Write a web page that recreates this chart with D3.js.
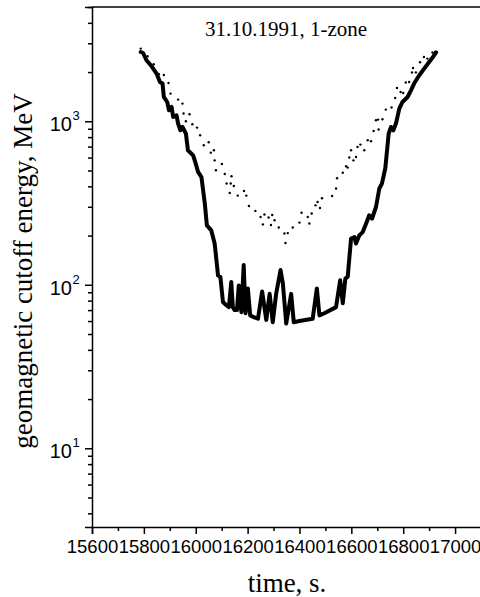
<!DOCTYPE html>
<html>
<head>
<meta charset="utf-8">
<script src="https://cdn.jsdelivr.net/npm/d3@7/dist/d3.min.js"></script>
<style>
  body { margin: 0; background: #fff; }
  svg { display: block; }
  .tick text { font-family: "Liberation Sans", Arial, sans-serif; }
</style>
</head>
<body>
<div id="chart"></div>
<script>
// thick curve: cutoff energy along the orbit (time in s, energy in MeV)
const solidTime = [15788, 15797, 15810, 15830, 15849, 15862, 15872, 15877, 15890, 15897,
  15907, 15913, 15926, 15932, 15941, 15949, 15962, 15970, 15990, 16000,
  16009, 16022, 16035, 16043, 16060, 16073, 16086, 16095, 16105, 16118,
  16128, 16137, 16143, 16150, 16159, 16166, 16176, 16185, 16192, 16201,
  16210, 16223, 16240, 16256, 16272, 16285, 16297, 16310, 16327, 16336,
  16349, 16368, 16378, 16400, 16451, 16467, 16477, 16496, 16541, 16557,
  16567, 16577, 16586, 16599, 16612, 16618, 16631, 16644, 16657, 16669,
  16680, 16695, 16708, 16718, 16731, 16744, 16753, 16762, 16772, 16785,
  16797, 16817, 16830, 16842, 16862, 16881, 16900, 16915, 16927];
const solidEnergy = [2654, 2617, 2361, 2170, 1957, 1740, 1701, 1408, 1312, 1168,
  1223, 1062, 1088, 968, 881, 923, 841, 665, 619, 551,
  490, 456, 314, 231, 215, 179, 114, 112, 78.5, 75,
  73, 104, 73, 70, 70, 99, 68, 132, 67, 95,
  65, 63.5, 62, 91, 61, 88, 59, 88, 123, 102,
  58, 88, 59, 60, 62, 95, 65, 67, 73, 106.5,
  77, 109, 112, 192, 196, 179, 201, 210, 237, 266,
  254, 299, 388, 416, 516, 841, 923, 881, 968, 1196,
  1312, 1408, 1547, 1701, 1911, 2101, 2305, 2474, 2642];

// dotted curve
const dotTime = [15788, 15814, 15838, 15858, 15877, 15895, 15903, 15932, 15949, 15953,
  15976, 15962, 15987, 16005, 16017, 16050, 16031, 16070, 16058, 16073,
  16101, 16078, 16112, 16138, 16119, 16135, 16147, 16131, 16186, 16162,
  16195, 16205, 16230, 16265, 16295, 16250, 16281, 16304, 16259, 16290,
  16320, 16342, 16355, 16346, 16374, 16400, 16408, 16432, 16438, 16447,
  16462, 16470, 16479, 16487, 16526, 16541, 16545, 16567, 16580, 16586,
  16592, 16608, 16618, 16599, 16624, 16635, 16650, 16663, 16676, 16686,
  16695, 16705, 16703, 16720, 16733, 16755, 16769, 16776, 16790, 16800,
  16810, 16823, 16834, 16838, 16849, 16865, 16880, 16893, 16913, 16923];
const dotEnergy = [2784, 2498, 2232, 1938, 1919, 1715, 1477, 1357, 1283, 1115,
  1104, 1000, 959, 915, 821, 744, 713, 665, 643, 577,
  548, 502, 476, 461, 416, 416, 402, 364, 375, 351,
  351, 303, 283, 269, 267, 260, 258, 248, 234, 232,
  224, 206, 207, 180, 224, 240, 276, 260, 237, 273,
  306, 321, 295, 338, 349, 388, 448, 484, 531, 521,
  600, 577, 605, 665, 697, 720, 665, 765, 755, 872,
  1014, 890, 1024, 1029, 1179, 1213, 1388, 1599, 1511, 1490,
  1725, 1740, 1986, 2118, 1990, 2296, 2474, 2418, 2632, 2654];

const xTicks = [15600, 15800, 16000, 16200, 16400, 16600, 16800, 17000];
const yTicks = [10, 100, 1000];
const yExponents = ["1", "2", "3"];

const width = 480, height = 597;
const margin = { top: 7, left: 92, bottom: 70 };

const svg = d3.select("#chart")
  .append("svg")
    .attr("width", width)
    .attr("height", height);

const x = d3.scaleLinear()
  .domain([15600, 17100])
  .range([margin.left, 481]);

const y = d3.scaleLog()
  .domain([3.3, 5000])
  .range([height - margin.bottom, margin.top]);

// minor ticks
const xMinor = d3.range(15700, 17100, 200);
const yMinor = [];
[1, 10, 100, 1000].forEach(dec => {
  for (let k = 2; k <= 9; k++) {
    const v = k * dec;
    if (v >= 3.3 && v <= 5000) yMinor.push(v);
  }
});

// frame top line
svg.append("line")
  .attr("x1", x.range()[0]).attr("x2", x.range()[1])
  .attr("y1", y.range()[1]).attr("y2", y.range()[1])
  .attr("stroke", "#000").attr("stroke-width", 1.5);

// x axis
const xAxis = svg.append("g")
  .attr("transform", `translate(0,${y.range()[0]})`)
  .call(d3.axisBottom(x).tickValues(xTicks).tickSize(7).tickPadding(6).tickFormat(d3.format("d")));
svg.append("g")
  .attr("transform", `translate(0,${y.range()[0]})`)
  .call(d3.axisBottom(x).tickValues(xMinor).tickSize(4).tickFormat(""))
  .call(g => g.select(".domain").remove());
xAxis.selectAll("text").attr("font-size", 18.5).attr("fill", "#000");

// y axis
const yAxis = svg.append("g")
  .attr("transform", `translate(${margin.left},0)`)
  .call(d3.axisLeft(y).tickValues(yTicks).tickSize(7).tickFormat(""));
svg.append("g")
  .attr("transform", `translate(${margin.left},0)`)
  .call(d3.axisLeft(y).tickValues(yMinor).tickSize(4).tickFormat(""))
  .call(g => g.select(".domain").remove());

svg.selectAll(".domain, .tick line").attr("stroke", "#000").attr("stroke-width", 1.5);

const yLab = svg.append("g").selectAll("text")
  .data(yTicks)
  .join("text")
    .attr("x", 72)
    .attr("y", d => y(d) + 10)
    .attr("text-anchor", "end")
    .attr("font-family", "Liberation Sans, Arial, sans-serif")
    .attr("font-size", 20)
    .text("10");
svg.append("g").selectAll("text")
  .data(yTicks)
  .join("text")
    .attr("x", 72.5)
    .attr("y", d => y(d) - 1)
    .attr("font-family", "Liberation Sans, Arial, sans-serif")
    .attr("font-size", 13)
    .text((d, i) => yExponents[i]);

// curves
const solid = solidTime.map((t, i) => [t, solidEnergy[i]]);
const line = d3.line()
  .x(d => x(d[0]))
  .y(d => y(d[1]));

svg.append("path")
  .datum(solid)
  .attr("d", line)
  .attr("fill", "none")
  .attr("stroke", "#000")
  .attr("stroke-width", 4)
  .attr("stroke-linejoin", "round")
  .attr("stroke-linecap", "round");

svg.append("g").selectAll("circle")
  .data(dotTime.map((t, i) => [t, dotEnergy[i]]))
  .join("circle")
    .attr("cx", d => x(d[0]))
    .attr("cy", d => y(d[1]))
    .attr("r", 1.2)
    .attr("fill", "#000");

// labels
svg.append("text")
  .attr("x", 286)
  .attr("y", 36)
  .attr("text-anchor", "middle")
  .attr("font-family", "Liberation Serif, Times New Roman, serif")
  .attr("font-size", 21)
  .text("31.10.1991, 1-zone");

svg.append("text")
  .attr("x", 287)
  .attr("y", 592)
  .attr("text-anchor", "middle")
  .attr("font-family", "Liberation Serif, Times New Roman, serif")
  .attr("font-size", 27)
  .text("time, s.");

svg.append("text")
  .attr("transform", "translate(32,271) rotate(-90)")
  .attr("text-anchor", "middle")
  .attr("font-family", "Liberation Serif, Times New Roman, serif")
  .attr("font-size", 27)
  .text("geomagnetic cutoff energy, MeV");
</script>
</body>
</html>
